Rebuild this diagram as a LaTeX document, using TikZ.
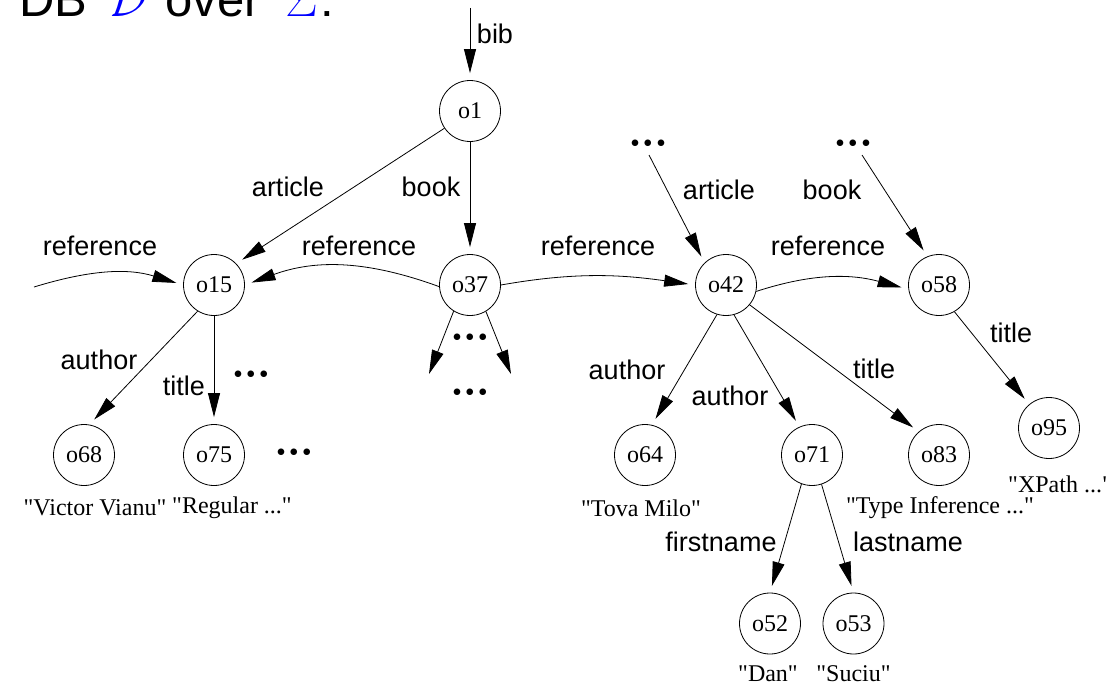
\RequirePackage{fix-cm}
\documentclass[tikz,border=0pt]{standalone}
\usepackage[no-math]{fontspec}
\newfontfamily\labelfont{Liberation Sans}
\newfontfamily\valfont{Liberation Serif}
\usetikzlibrary{arrows.meta}
\newcommand{\threedots}{$\bullet$\kern4.5pt$\bullet$\kern4.5pt$\bullet$}

\begin{document}
\begin{tikzpicture}[x=1pt,y=-1pt,
  obj/.style={draw, circle, minimum size=61pt, inner sep=0pt, line width=0.8pt,
              font=\valfont\fontsize{24}{26}\selectfont},
  edge/.style={draw, line width=0.8pt, -{Triangle[length=24pt,width=12pt]}, shorten >=7pt},
  lbl/.style={inner sep=0pt, font=\labelfont\fontsize{27}{30}\selectfont},
  val/.style={inner sep=0pt, font=\valfont\fontsize{24}{26}\selectfont},
  ellip/.style={inner sep=0pt, font=\fontsize{17}{17}\selectfont}]
\useasboundingbox (0,0) rectangle (1106,685);

% heading, partly above the page
\node[anchor=base west, inner sep=0pt, font=\labelfont\fontsize{49}{52}\selectfont] (head) at (19,17)
  {DB\kern21pt\textcolor{blue}{$\mathcal{D}$}\kern18pt over\kern25pt\textcolor{blue}{$\Sigma$}\kern2pt:};

% objects
\node[obj] (o1)  at (470,111) {o1};
\node[obj] (o15) at (214,285) {o15};
\node[obj] (o37) at (470,285) {o37};
\node[obj] (o42) at (726,285) {o42};
\node[obj] (o58) at (939,285) {o58};
\node[obj] (o68) at (84,455)  {o68};
\node[obj] (o75) at (214,455) {o75};
\node[obj] (o64) at (645,455) {o64};
\node[obj] (o71) at (812,455) {o71};
\node[obj] (o83) at (939,455) {o83};
\node[obj] (o95) at (1049,428) {o95};
\node[obj] (o52) at (770,623.5) {o52};
\node[obj] (o53) at (853.5,623.5) {o53};

% atomic values
\node[val] (v68) at (95,508)  {"Victor Vianu"};
\node[val] (v75) at (232,508) {"Regular ..."};
\node[val] (v64) at (641,508) {"Tova Milo"};
\node[val] (v83) at (940,508) {"Type Inference ..."};
\node[val, anchor=west] (v95) at (1008,484) {"XPath ..."};
\node[val] (v52) at (768,674) {"Dan"};
\node[val] (v53) at (853.5,674) {"Suciu"};

% elided parts
\node[ellip] (e42) at (648,144) {\threedots};
\node[ellip] (e58) at (853,144) {\threedots};
\node[ellip] (e15) at (251,375) {\threedots};
\node[ellip] (e75) at (294,453) {\threedots};
\node[ellip] (e37a) at (470,338) {\threedots};
\node[ellip] (e37b) at (470,393) {\threedots};

% free ends
\coordinate (bibtop) at (470,8);
\coordinate (refin) at (34,287);
\coordinate (s42) at (649,155);
\coordinate (s58) at (862,155);
\coordinate (t37l) at (429,374);
\coordinate (t37r) at (511,374);

% edges
\draw[edge] (bibtop) -- (o1);
\draw[edge] (o1.214) -- (o15.44);
\draw[edge] (o1) -- (o37);
\draw[edge] (refin) to[out=17, in=163] (o15.west);
\draw[edge] (o37.183) to[out=160, in=20] (o15.east);
\draw[edge] (o37.east) to[out=10, in=172] (o42.west);
\draw[edge] (o42.-12) to[out=18, in=165] (o58.188);
\draw[edge] (s42) -- (o42.134);
\draw[edge] (s58) -- (o58.112);
\draw[edge] (o58.-60) -- (o95.130);
\draw[edge] (o42.-107) -- (o64.77);
\draw[edge] (o42.-75) -- (o71.114);
\draw[edge] (o42.-40) -- (o83.131);
\draw[edge] (o15.-122) -- (o68.80);
\draw[edge] (o15) -- (o75);
\draw[edge, shorten >=0pt] (o37.-122) -- (t37l);
\draw[edge, shorten >=0pt] (o37.-59) -- (t37r);
\draw[edge] (o71.-110) -- (o52.90);
\draw[edge] (o71.-72) -- (o53.90);

% edge labels
\node[lbl] at (495,34)  {bib};
\node[lbl] at (288,187) {article};
\node[lbl] at (431,187) {book};
\node[lbl] at (100,246) {reference};
\node[lbl] at (359,246) {reference};
\node[lbl] at (598,246) {reference};
\node[lbl] at (828,246) {reference};
\node[lbl] at (719,190) {article};
\node[lbl] at (832,190) {book};
\node[lbl] at (1011,333) {title};
\node[lbl] at (627,370) {author};
\node[lbl] at (730,396) {author};
\node[lbl] at (874,369) {title};
\node[lbl] at (99,360)  {author};
\node[lbl] at (184,386) {title};
\node[lbl] at (721,542) {firstname};
\node[lbl] at (908,542) {lastname};
\end{tikzpicture}
\end{document}
